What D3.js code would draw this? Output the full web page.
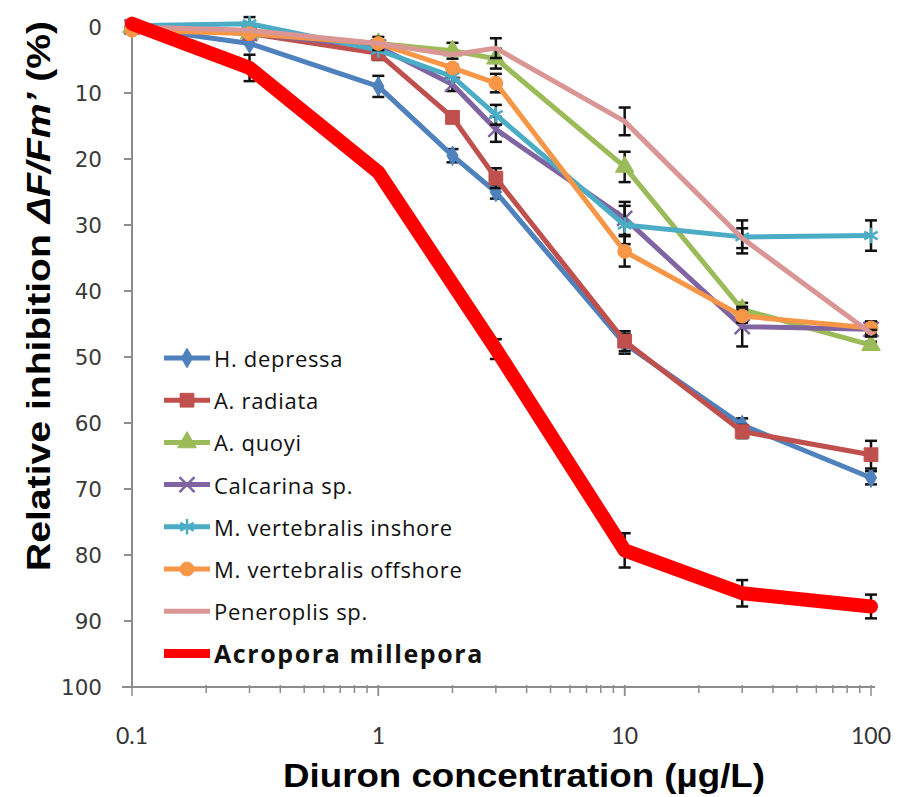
<!DOCTYPE html>
<html>
<head>
<meta charset="utf-8">
<script src="https://cdn.jsdelivr.net/npm/d3@7"></script>
<style>
  body { margin: 0; background: #fff; }
  svg { display: block; }
</style>
</head>
<body>
<svg id="chart" width="899" height="797"></svg>
<script>
// concentrations (ug/L)
var conc = [0.1, 0.3, 1, 2, 3, 10, 30, 100]
var concAcro = [0.1, 0.3, 1, 3, 10, 30, 100]

// relative inhibition (%) per species
var hDepressa = [0, 2.5, 9, 19.5, 25, 48, 60.3, 68.3]
var aRadiata = [0, 1, 4, 13.7, 22.9, 47.6, 61.3, 64.8]
var aQuoyi = [0, 1, 2.5, 3.6, 4.8, 21.2, 42.8, 48.2]
var calcarina = [0, 1, 3, 8.7, 15.5, 29, 45.4, 45.8]
var mvInshore = [-0.2, -0.5, 3.5, 7.5, 13.3, 30, 31.8, 31.6]
var mvOffshore = [0.5, 1, 2.5, 6.2, 8.5, 34, 43.8, 45.6]
var peneroplis = [0, 0.5, 2.5, 4.2, 3.2, 14.3, 32, 46.4]
var acropora = [-0.5, 6.2, 22, 48.8, 79.3, 85.8, 87.8]

// error bars (+/-)
var errHDepressa = [0, 0, 1.6, 1, 1, 1.5, 1, 1]
var errARadiata = [0, 0, 1, 0.5, 1.5, 1.5, 1, 2.1]
var errAQuoyi = [0, 0, 0, 1.2, 1.5, 2.3, 1, 0.5]
var errCalcarina = [0, 0, 0, 1, 1.9, 2.5, 3, 0.5]
var errMvInshore = [0, 1, 0, 0, 1.5, 2.9, 2.5, 2.3]
var errMvOffshore = [0, 0, 1, 0.5, 1.4, 2.3, 1, 1]
var errPeneroplis = [0, 0, 0, 0, 1.5, 2.1, 1.5, 0.5]
var errAcropora = [0, 2, 0, 1.5, 2.6, 2, 1.8]

var yTicks = [0, 10, 20, 30, 40, 50, 60, 70, 80, 90, 100]
var xTicks = [0.1, 1, 10, 100]

var series = [
  {name: "H. depressa", x: conc, v: hDepressa, e: errHDepressa, color: "#4F81BD", sym: d3.symbolDiamond, size: 110, fill: true},
  {name: "A. radiata", x: conc, v: aRadiata, e: errARadiata, color: "#C0504D", sym: d3.symbolSquare, size: 190, fill: true},
  {name: "A. quoyi", x: conc, v: aQuoyi, e: errAQuoyi, color: "#9BBB59", sym: d3.symbolTriangle, size: 150, fill: true},
  {name: "Calcarina sp.", x: conc, v: calcarina, e: errCalcarina, color: "#8064A2", sym: d3.symbolX, size: 150, fill: false},
  {name: "M. vertebralis inshore", x: conc, v: mvInshore, e: errMvInshore, color: "#4BACC6", sym: d3.symbolAsterisk, size: 170, fill: false},
  {name: "M. vertebralis offshore", x: conc, v: mvOffshore, e: errMvOffshore, color: "#F79646", sym: d3.symbolCircle, size: 150, fill: true},
  {name: "Peneroplis sp.", x: conc, v: peneroplis, e: errPeneroplis, color: "#D99694", sym: null},
  {name: "Acropora millepora", x: concAcro, v: acropora, e: errAcropora, color: "#FF0000", sym: null, thick: true}
]

var svg = d3.select("#chart")

var x = d3.scaleLog().domain([0.1, 100]).range([132, 871])
var y = d3.scaleLinear().domain([0, 100]).range([27, 687])

// axes
var axisColor = "#8c8c8c"
svg.append("line")
  .attr("x1", 132).attr("x2", 132)
  .attr("y1", 18).attr("y2", y(100))
  .attr("stroke", axisColor).attr("stroke-width", 2)
svg.append("line")
  .attr("x1", 122).attr("x2", 875)
  .attr("y1", y(100)).attr("y2", y(100))
  .attr("stroke", axisColor).attr("stroke-width", 2)

svg.selectAll(".ytick")
  .data(yTicks)
  .enter()
  .append("line")
    .attr("x1", 124).attr("x2", 132)
    .attr("y1", function(d){ return y(d) })
    .attr("y2", function(d){ return y(d) })
    .attr("stroke", axisColor).attr("stroke-width", 2)

svg.selectAll(".ylab")
  .data(yTicks)
  .enter()
  .append("text")
    .attr("x", 102)
    .attr("y", function(d){ return y(d) })
    .attr("text-anchor", "end")
    .attr("dominant-baseline", "central")
    .style("font-family", "DejaVu Sans")
    .style("font-size", "21.5px")
    .style("fill", "#3a3a3a")
    .text(function(d){ return d })

// log ticks on x
var minor = []
for (var dec = 0.1; dec < 100; dec *= 10) {
  for (var k = 1; k <= 10; k++) minor.push(+(dec * k).toPrecision(3))
}
svg.selectAll(".xtick")
  .data(minor)
  .enter()
  .append("line")
    .attr("x1", function(d){ return x(d) })
    .attr("x2", function(d){ return x(d) })
    .attr("y1", y(100) - 2)
    .attr("y2", function(d){ return xTicks.indexOf(d) >= 0 ? y(100) + 9 : y(100) + 6 })
    .attr("stroke", axisColor).attr("stroke-width", 1.5)

svg.selectAll(".xlab")
  .data(xTicks)
  .enter()
  .append("text")
    .attr("x", function(d){ return x(d) })
    .attr("y", 744)
    .attr("text-anchor", "middle")
    .style("font-family", "Lato")
    .style("font-size", "23px")
    .style("fill", "#333")
    .text(function(d){ return d })

// axis titles (condensed bold look)
svg.append("text")
  .attr("x", 524).attr("y", 787)
  .attr("text-anchor", "middle")
  .attr("textLength", 482)
  .attr("lengthAdjust", "spacingAndGlyphs")
  .style("font-family", "Liberation Sans")
  .style("font-weight", "bold")
  .style("font-size", "34px")
  .text("Diuron concentration (µg/L)")

var yt = svg.append("text")
  .attr("transform", "translate(50,296) rotate(-90)")
  .attr("text-anchor", "middle")
  .attr("textLength", 550)
  .attr("lengthAdjust", "spacingAndGlyphs")
  .style("font-family", "Liberation Sans")
  .style("font-weight", "bold")
  .style("font-size", "34px")
yt.append("tspan").text("Relative inhibition ")
yt.append("tspan").style("font-style", "italic").text("ΔF/Fm’")
yt.append("tspan").text(" (%)")

// series
var line = d3.line()
  .x(function(d){ return x(d[0]) })
  .y(function(d){ return y(d[1]) })

series.forEach(function(s){
  var pts = s.x.map(function(c, i){ return [c, s.v[i], s.e[i]] })
  var g = svg.append("g")

  // error bars
  var eb = g.selectAll("g.err")
    .data(pts.filter(function(p){ return p[2] > 0 }))
    .enter()
    .append("g")
  eb.append("line")
    .attr("x1", function(d){ return x(d[0]) })
    .attr("x2", function(d){ return x(d[0]) })
    .attr("y1", function(d){ return y(d[1] - d[2]) })
    .attr("y2", function(d){ return y(d[1] + d[2]) })
    .attr("stroke", "#111").attr("stroke-width", 2.5)
  eb.append("line")
    .attr("x1", function(d){ return x(d[0]) - 6 })
    .attr("x2", function(d){ return x(d[0]) + 6 })
    .attr("y1", function(d){ return y(d[1] - d[2]) })
    .attr("y2", function(d){ return y(d[1] - d[2]) })
    .attr("stroke", "#111").attr("stroke-width", 2.5)
  eb.append("line")
    .attr("x1", function(d){ return x(d[0]) - 6 })
    .attr("x2", function(d){ return x(d[0]) + 6 })
    .attr("y1", function(d){ return y(d[1] + d[2]) })
    .attr("y2", function(d){ return y(d[1] + d[2]) })
    .attr("stroke", "#111").attr("stroke-width", 2.5)

  g.append("path")
    .datum(pts)
    .attr("d", line)
    .attr("fill", "none")
    .attr("stroke", s.color)
    .attr("stroke-width", s.thick ? 14 : 5)
    .attr("stroke-linejoin", "round")
    .attr("stroke-linecap", "round")

  if (s.sym) {
    g.selectAll("path.mk")
      .data(pts)
      .enter()
      .append("path")
        .attr("transform", function(d){ return "translate(" + x(d[0]) + "," + y(d[1]) + ")" })
        .attr("d", d3.symbol().type(s.sym).size(s.size))
        .attr("fill", s.fill ? s.color : "none")
        .attr("stroke", s.color)
        .attr("stroke-width", s.fill ? 1 : 2.5)
  }
})

// legend
var lg = svg.append("g")
var rowY = function(i){ return 358 + i * 42.2 }
series.forEach(function(s, i){
  lg.append("line")
    .attr("x1", 164).attr("x2", 210)
    .attr("y1", rowY(i)).attr("y2", rowY(i))
    .attr("stroke", s.color)
    .attr("stroke-width", s.thick ? 9 : 5)
  if (s.sym) {
    lg.append("path")
      .attr("transform", "translate(187," + rowY(i) + ")")
      .attr("d", d3.symbol().type(s.sym).size(s.size))
      .attr("fill", s.fill ? s.color : "none")
      .attr("stroke", s.color)
      .attr("stroke-width", s.fill ? 1 : 2.5)
  }
  lg.append("text")
    .attr("x", 214)
    .attr("y", rowY(i))
    .attr("dominant-baseline", "central")
    .style("font-family", "Open Sans")
    .style("font-size", s.thick ? "25px" : "22px")
    .style("font-weight", s.thick ? "bold" : "normal")
    .style("letter-spacing", s.thick ? "1.6px" : "0.7px")
    .style("fill", "#111")
    .text(s.name)
})
</script>
</body>
</html>
